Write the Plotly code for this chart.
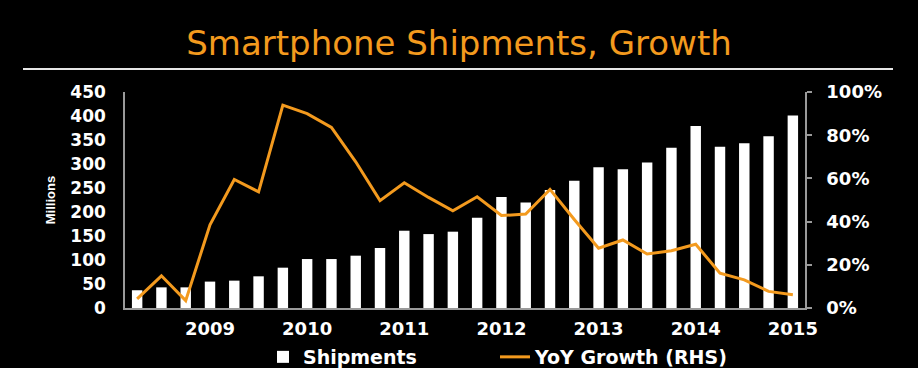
import plotly.graph_objects as go

quarters = ["Q2 08", "Q3 08", "Q4 08",
            "Q1 09", "Q2 09", "Q3 09", "Q4 09",
            "Q1 10", "Q2 10", "Q3 10", "Q4 10",
            "Q1 11", "Q2 11", "Q3 11", "Q4 11",
            "Q1 12", "Q2 12", "Q3 12", "Q4 12",
            "Q1 13", "Q2 13", "Q3 13", "Q4 13",
            "Q1 14", "Q2 14", "Q3 14", "Q4 14",
            "Q1 15"]
shipments = [37, 43, 43, 55, 57, 66, 84, 102, 102, 109, 125, 161, 154, 159,
             188, 231, 220, 246, 265, 293, 289, 303, 334, 379, 336, 343, 358, 401]
yoy_growth = [0.042, 0.149, 0.034, 0.385, 0.595, 0.538, 0.939, 0.90, 0.836, 0.677,
              0.497, 0.58, 0.512, 0.45, 0.515, 0.428, 0.435, 0.549, 0.41, 0.277,
              0.315, 0.25, 0.265, 0.295, 0.161, 0.13, 0.077, 0.061]
year_ticks = ["Q1 09", "Q1 10", "Q1 11", "Q1 12", "Q1 13", "Q1 14", "Q1 15"]
year_labels = ["2009", "2010", "2011", "2012", "2013", "2014", "2015"]

ORANGE = "#F39A1E"
AXIS = "#9a9a9a"
FONT = "DejaVu Sans"

fig = go.Figure()
fig.add_trace(go.Bar(x=quarters, y=shipments, name="Shipments",
                     marker=dict(color="white", line=dict(width=0)),
                     yaxis="y"))
fig.add_trace(go.Scatter(x=quarters, y=yoy_growth, name="YoY Growth (RHS)",
                         mode="lines", line=dict(color=ORANGE, width=3),
                         yaxis="y2"))

W, H = 918, 368
L, R, T, B = 125, 805, 92, 308
pw, ph = R - L, B - T

fig.update_layout(
    width=W, height=H,
    paper_bgcolor="black", plot_bgcolor="black",
    margin=dict(l=L, r=W - R, t=T, b=H - B, autoexpand=False),
    bargap=0.57,
    showlegend=True,
    title=dict(text="Smartphone Shipments, Growth", x=0.5, xanchor="center",
               y=1 - 43 / H, yanchor="middle",
               font=dict(family=FONT, size=34, color=ORANGE)),
    xaxis=dict(type="category", range=[-0.5, 27.5],
               tickmode="array", tickvals=year_ticks, ticktext=year_labels,
               showline=True, linecolor=AXIS, linewidth=1.5,
               showgrid=False, zeroline=False, ticks="",
               ticklabelstandoff=4,
               tickfont=dict(family=FONT, size=18, color="white", weight="bold")),
    yaxis=dict(range=[0, 450], dtick=50, showgrid=False, zeroline=False,
               showline=True, linecolor=AXIS, linewidth=1.5, ticks="",
               ticklabelstandoff=14,
               tickfont=dict(family=FONT, size=17, color="white", weight="bold"),
               title=dict(text="Millions", standoff=12,
                          font=dict(family="Liberation Sans", size=13, color="white",
                                    weight="bold"))),
    yaxis2=dict(range=[0, 1], dtick=0.2, tickformat=".0%", overlaying="y",
                side="right", showgrid=False, zeroline=False,
                showline=True, linecolor=AXIS, linewidth=1.5,
                ticks="outside", ticklen=5, tickcolor=AXIS, tickwidth=1.5,
                ticklabelstandoff=11,
                tickfont=dict(family=FONT, size=18, color="white", weight="bold")),
    legend=dict(orientation="h", x=(263 - L) / pw, xanchor="left",
                y=(B - 357) / ph, yanchor="middle",
                entrywidth=187, entrywidthmode="pixels",
                font=dict(family=FONT, size=19, color="white", weight="bold"),
                bgcolor="rgba(0,0,0,0)", traceorder="normal"),
    shapes=[dict(type="line", xref="paper", yref="paper",
                 x0=(23 - L) / pw, x1=(893 - L) / pw,
                 y0=(B - 69) / ph, y1=(B - 69) / ph,
                 line=dict(color="#e6e6e6", width=2))],
)

fig.write_html("out.html",
               config={"displayModeBar": False},
               post_script="document.body.style.margin='0';"
                           "document.body.style.background='black';")
